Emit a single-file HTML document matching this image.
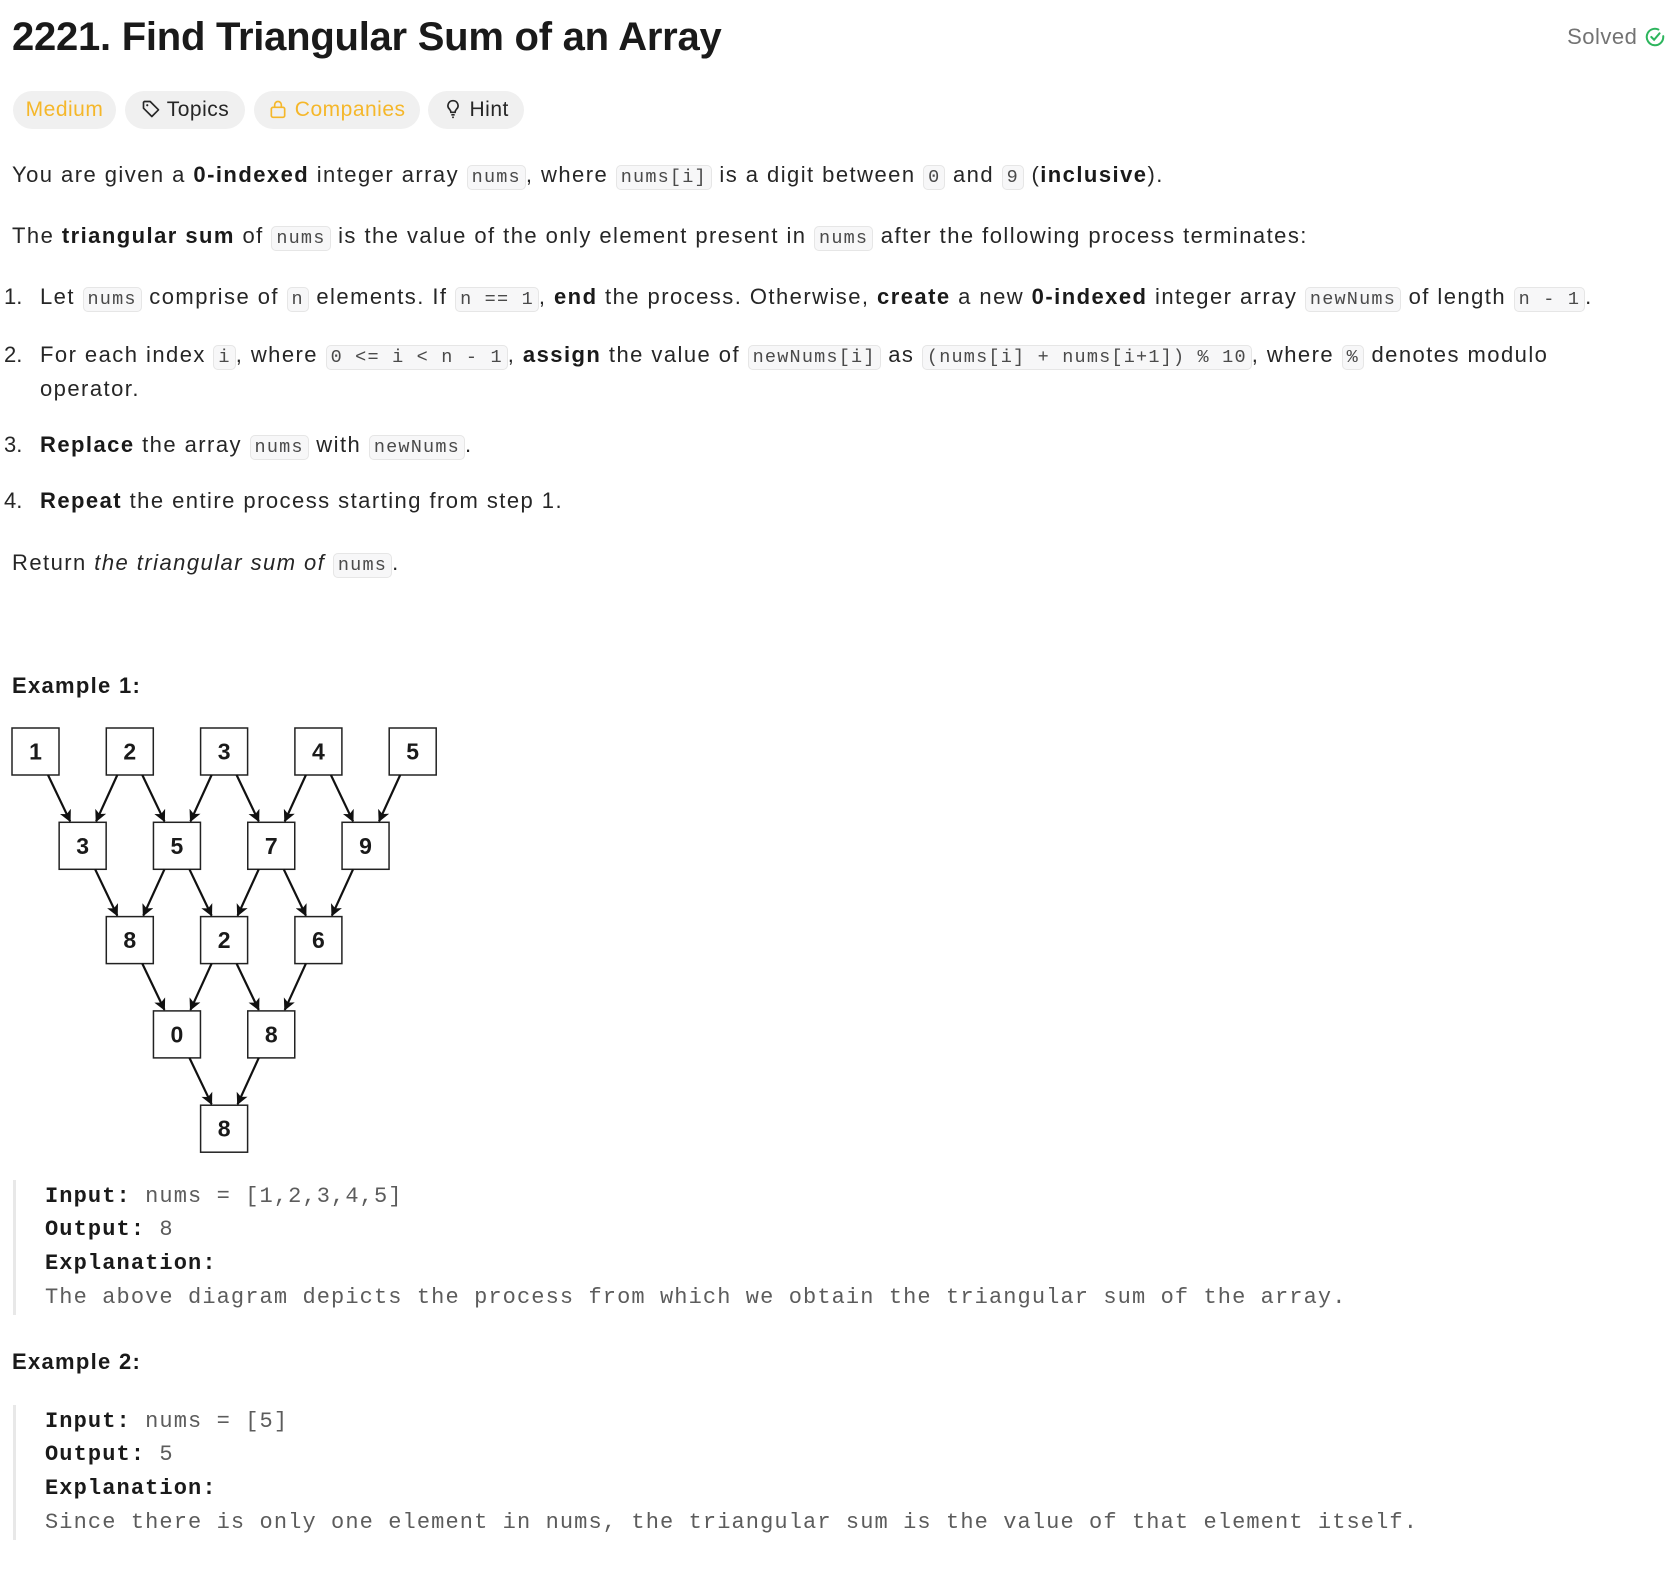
<!DOCTYPE html>
<html><head><meta charset="utf-8">
<style>
body{margin:0;width:1676px;height:1584px;background:#fff;position:relative;overflow:hidden;font-family:"Liberation Sans",sans-serif;color:#262626;}
.ln{position:absolute;white-space:nowrap;font-size:22px;letter-spacing:1.45px;line-height:34px;}
b{color:#1a1a1a;}
code{font-family:"Liberation Mono",monospace;font-size:18.5px;letter-spacing:1.2px;color:#4a4a4a;background:#f7f7f8;border:1px solid #e6e6e6;border-radius:5px;padding:1px 4px;}
.pill{position:absolute;top:91px;height:38px;border-radius:19px;background:#f0f0f0;font-size:21px;letter-spacing:0.5px;line-height:38px;text-align:center;}
.pre{position:absolute;left:13px;border-left:3px solid #e8e8e8;}
.pl{position:absolute;left:29px;white-space:nowrap;font-family:"Liberation Mono",monospace;font-size:22px;letter-spacing:1.1px;color:#5c5c5c;line-height:33px;}
.pl b{color:#1a1a1a;}
.num{display:inline-block;width:36px;letter-spacing:0;}
</style></head><body>
<div class="ln" style="left:12px;top:12px;font-size:40px;line-height:50px;font-weight:bold;letter-spacing:-0.25px;color:#1a1a1a;">2221. Find Triangular Sum of an Array</div>
<div class="ln" style="right:10px;top:20px;color:#737373;font-size:22px;letter-spacing:0.5px;">Solved <svg width="22" height="22" viewBox="0 0 24 24" style="vertical-align:-4px"><path d="M21 11.1V12a9 9 0 1 1-5.3-8.2" fill="none" stroke="#2db55d" stroke-width="2.2" stroke-linecap="round"/><path d="M8 12l3 3 6-7" fill="none" stroke="#2db55d" stroke-width="2.2" stroke-linecap="round"/></svg></div>

<div class="pill" style="left:13px;width:103px;color:#f5b72a;">Medium</div>
<div class="pill" style="left:125px;width:120px;"><svg width="20" height="20" viewBox="0 0 24 24" style="vertical-align:-3px"><path d="M3 4v7l10 10 8-8L11 3H4z" fill="none" stroke="#262626" stroke-width="2" stroke-linejoin="round"/><circle cx="7.5" cy="7.5" r="1.3" fill="#262626"/></svg> Topics</div>
<div class="pill" style="left:254px;width:166px;color:#f5b72a;"><svg width="20" height="20" viewBox="0 0 24 24" style="vertical-align:-3px"><rect x="4" y="10" width="16" height="12" rx="2" fill="none" stroke="#f5b72a" stroke-width="2"/><path d="M8 10V7a4 4 0 0 1 8 0v3" fill="none" stroke="#f5b72a" stroke-width="2"/></svg> Companies</div>
<div class="pill" style="left:428px;width:96px;"><svg width="20" height="20" viewBox="0 0 24 24" style="vertical-align:-3px"><path d="M12 2a6 6 0 0 0-4 10.5c1 1 1.5 2 1.5 3.5h5c0-1.5.5-2.5 1.5-3.5A6 6 0 0 0 12 2z" fill="none" stroke="#262626" stroke-width="2"/><path d="M10 19h4M11 22h2" stroke="#262626" stroke-width="2"/></svg> Hint</div>

<div class="ln" style="left:12px;top:158px;">You are given a <b>0-indexed</b> integer array <code>nums</code>, where <code>nums[i]</code> is a digit between <code>0</code> and <code>9</code> (<b>inclusive</b>).</div>
<div class="ln" style="left:12px;top:219px;">The <b>triangular sum</b> of <code>nums</code> is the value of the only element present in <code>nums</code> after the following process terminates:</div>
<div class="ln" style="left:4px;top:280px;"><span class="num">1.</span>Let <code>nums</code> comprise of <code>n</code> elements. If <code>n == 1</code>, <b>end</b> the process. Otherwise, <b>create</b> a new <b>0-indexed</b> integer array <code>newNums</code> of length <code>n - 1</code>.</div>
<div class="ln" style="left:4px;top:338px;"><span class="num">2.</span>For each index <code>i</code>, where <code>0 &lt;= i &lt; n - 1</code>, <b>assign</b> the value of <code>newNums[i]</code> as <code>(nums[i] + nums[i+1]) % 10</code>, where <code>%</code> denotes modulo</div>
<div class="ln" style="left:40px;top:372px;">operator.</div>
<div class="ln" style="left:4px;top:428px;"><span class="num">3.</span><b>Replace</b> the array <code>nums</code> with <code>newNums</code>.</div>
<div class="ln" style="left:4px;top:484px;"><span class="num">4.</span><b>Repeat</b> the entire process starting from step 1.</div>
<div class="ln" style="left:12px;top:546px;">Return <i>the triangular sum of</i> <code>nums</code>.</div>

<div class="ln" style="left:12px;top:669px;font-weight:bold;color:#1a1a1a;letter-spacing:1.3px;">Example 1:</div>
<svg id="diag" style="position:absolute;left:0;top:700px;" width="460" height="470"></svg>

<div class="pre" style="top:1180px;height:135px;">
<div class="pl" style="top:0"><b>Input:</b> nums = [1,2,3,4,5]</div>
<div class="pl" style="top:33px"><b>Output:</b> 8</div>
<div class="pl" style="top:67px"><b>Explanation:</b></div>
<div class="pl" style="top:101px">The above diagram depicts the process from which we obtain the triangular sum of the array.</div>
</div>
<div class="ln" style="left:12px;top:1345px;font-weight:bold;color:#1a1a1a;letter-spacing:1.3px;">Example 2:</div>
<div class="pre" style="top:1405px;height:135px;">
<div class="pl" style="top:0"><b>Input:</b> nums = [5]</div>
<div class="pl" style="top:33px"><b>Output:</b> 5</div>
<div class="pl" style="top:67px"><b>Explanation:</b></div>
<div class="pl" style="top:101px">Since there is only one element in nums, the triangular sum is the value of that element itself.</div>
</div>

<script>
const row0 = [1,2,3,4,5];
const row1 = [3,5,7,9];
const row2 = [8,2,6];
const row3 = [0,8];
const row4 = [8];
const rows = [row0,row1,row2,row3,row4];
const svg = document.getElementById('diag');
const NS = 'http://www.w3.org/2000/svg';
const X0 = 12, Y0 = 28, STEP = 94.3, SZ = 47;
function bx(r,i){return X0 + r*STEP/2 + i*STEP;}
function by(r){return Y0 + r*STEP;}
const defs = document.createElementNS(NS,'defs');
defs.innerHTML = '<marker id="ah" markerWidth="12" markerHeight="12" refX="11" refY="6" orient="auto" markerUnits="userSpaceOnUse"><path d="M0,0 L12,6 L0,12 L3,6 z" fill="#111"/></marker>';
svg.appendChild(defs);
rows.forEach((row,r)=>{
  row.forEach((v,i)=>{
    const g = document.createElementNS(NS,'g');
    
    
    const rect = document.createElementNS(NS,'rect');
    rect.setAttribute('x',bx(r,i)); rect.setAttribute('y',by(r));
    rect.setAttribute('width',SZ); rect.setAttribute('height',SZ);
    rect.setAttribute('fill','#fff'); rect.setAttribute('stroke','#222'); rect.setAttribute('stroke-width','1.5');
    g.appendChild(rect);
    const t = document.createElementNS(NS,'text');
    t.setAttribute('x',bx(r,i)+SZ/2); t.setAttribute('y',by(r)+SZ/2+8);
    t.setAttribute('text-anchor','middle'); t.setAttribute('font-size','23'); t.setAttribute('font-weight','bold');
    t.setAttribute('font-family','Liberation Sans, sans-serif'); t.setAttribute('fill','#1a1a1a');
    t.textContent = v;
    g.appendChild(t);
    svg.appendChild(g);
    if(r>0){
      [[i,36,11],[i+1,11,37]].forEach(([pi,po,co])=>{
        const l = document.createElementNS(NS,'line');
        
        
        l.setAttribute('x1',bx(r-1,pi)+po); l.setAttribute('y1',by(r-1)+SZ);
        l.setAttribute('x2',bx(r,i)+co); l.setAttribute('y2',by(r)-1);
        l.setAttribute('stroke','#111'); l.setAttribute('stroke-width','2.2');
        l.setAttribute('marker-end','url(#ah)');
        svg.appendChild(l);
      });
    }
  });
});
</script>
</body></html>
